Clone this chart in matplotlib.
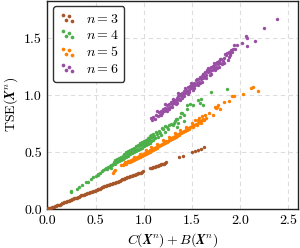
import numpy as np
import matplotlib
matplotlib.use('Agg')
import matplotlib.pyplot as plt

# datos (n = 3, 4, 5, 6)
x3 = [0.00, 0.02, 0.04, 0.05, 0.07, 0.09, 0.11, 0.13, 0.15, 0.17, 0.19, 0.21, 0.23, 0.25, 0.27,
      0.29, 0.31, 0.33, 0.35, 0.37, 0.39, 0.41, 0.43, 0.45, 0.47, 0.49, 0.51, 0.53, 0.55, 0.57,
      0.59, 0.61, 0.63, 0.65, 0.67, 0.69, 0.71, 0.73, 0.75, 0.77, 0.79, 0.81, 0.83, 0.85, 0.87,
      0.89, 0.91, 0.93, 0.95, 0.97, 0.99, 1.07, 1.09, 1.11, 1.13, 1.15, 1.17, 1.19, 1.21, 1.23,
      1.37, 1.41, 1.50, 1.53, 1.56, 1.59, 1.63,
      0.01, 0.03, 0.06, 0.08, 0.10, 0.12, 0.14, 0.16, 0.18, 0.20, 0.22, 0.24, 0.26, 0.28, 0.30,
      0.32, 0.34, 0.36, 0.38, 0.40, 0.42, 0.44, 0.46, 0.48, 0.50, 0.52, 0.54, 0.56, 0.58, 0.60,
      0.62, 0.64, 0.66, 0.68, 0.70, 0.72, 0.74, 0.76, 0.78, 0.80, 0.82, 0.84, 0.86, 0.88, 0.90,
      0.92, 0.94, 0.96, 0.98, 1.08, 1.10, 1.12, 1.14, 1.16, 1.18, 1.20, 1.22]
y3 = [0.00, 0.01, 0.01, 0.02, 0.02, 0.03, 0.04, 0.04, 0.05, 0.06, 0.06, 0.07, 0.08, 0.08, 0.09,
      0.10, 0.10, 0.11, 0.12, 0.12, 0.13, 0.14, 0.14, 0.15, 0.16, 0.16, 0.17, 0.18, 0.18, 0.19,
      0.20, 0.20, 0.21, 0.22, 0.22, 0.23, 0.24, 0.24, 0.25, 0.26, 0.26, 0.27, 0.28, 0.28, 0.29,
      0.30, 0.30, 0.31, 0.32, 0.32, 0.33, 0.36, 0.36, 0.37, 0.38, 0.38, 0.39, 0.40, 0.40, 0.41,
      0.455, 0.47, 0.50, 0.51, 0.52, 0.53, 0.545,
      0.005, 0.01, 0.02, 0.027, 0.033, 0.04, 0.047, 0.053, 0.06, 0.067, 0.073, 0.08, 0.087, 0.093, 0.10,
      0.107, 0.113, 0.12, 0.127, 0.133, 0.14, 0.147, 0.153, 0.16, 0.167, 0.173, 0.18, 0.187, 0.193, 0.20,
      0.207, 0.213, 0.22, 0.227, 0.233, 0.24, 0.247, 0.253, 0.26, 0.267, 0.273, 0.28, 0.287, 0.293, 0.30,
      0.307, 0.313, 0.32, 0.327, 0.36, 0.367, 0.373, 0.38, 0.387, 0.393, 0.40, 0.407]

x4 = [0.24, 0.25, 0.31, 0.33, 0.36, 0.40, 0.42, 0.45, 0.47, 0.50, 0.52, 0.53, 0.55, 0.57, 0.58,
      0.60, 0.61, 0.62, 0.63, 0.64, 0.65, 0.66, 0.67, 0.68, 0.69, 0.70, 0.71, 0.72, 0.73, 0.74,
      0.75, 0.76, 0.77, 0.78, 0.79, 0.80, 0.81, 0.82, 0.83, 0.84, 0.85, 0.86, 0.87, 0.88, 0.89,
      0.90, 0.91, 0.92, 0.93, 0.94, 0.95, 0.96, 0.97, 0.98, 0.99, 1.00, 1.01, 1.02, 1.03, 1.04,
      1.05, 1.06, 1.07, 1.08, 1.09, 1.10, 1.11, 1.12, 1.14, 1.15, 1.17, 1.18, 1.20, 1.22, 1.24,
      1.25, 1.28, 1.30, 1.31, 1.32, 1.34, 1.35, 1.36, 1.38, 1.39, 1.40, 1.42, 1.42, 1.45, 1.45,
      1.48, 1.51, 1.56, 1.58, 1.59, 1.62, 1.70, 1.86,
      0.66, 0.70, 0.74, 0.78, 0.82, 0.86, 0.90, 0.94, 0.98, 1.02, 1.06, 1.10, 1.16, 1.22,
      0.72, 0.76, 0.80, 0.84, 0.88, 0.92, 0.96, 1.00, 1.04, 1.08, 1.13, 1.19, 1.26, 1.33]
y4 = [0.15, 0.155, 0.18, 0.19, 0.21, 0.235, 0.24, 0.26, 0.28, 0.29, 0.30, 0.31, 0.32, 0.33, 0.34,
      0.35, 0.36, 0.355, 0.37, 0.37, 0.38, 0.39, 0.385, 0.40, 0.41, 0.40, 0.42, 0.41, 0.43, 0.42,
      0.44, 0.43, 0.45, 0.44, 0.46, 0.45, 0.47, 0.46, 0.48, 0.47, 0.49, 0.48, 0.50, 0.49, 0.51,
      0.50, 0.52, 0.51, 0.53, 0.52, 0.55, 0.53, 0.56, 0.54, 0.57, 0.55, 0.58, 0.56, 0.59, 0.57,
      0.61, 0.58, 0.62, 0.60, 0.63, 0.61, 0.64, 0.62, 0.66, 0.63, 0.67, 0.65, 0.70, 0.68, 0.72,
      0.70, 0.75, 0.74, 0.755, 0.77, 0.725, 0.79, 0.76, 0.81, 0.84, 0.84, 0.83, 0.77, 0.88, 0.91,
      0.925, 0.91, 0.955, 0.93, 0.965, 0.91, 1.03, 1.055,
      0.36, 0.43, 0.45, 0.47, 0.50, 0.52, 0.54, 0.56, 0.59, 0.61, 0.64, 0.66, 0.69, 0.73,
      0.44, 0.46, 0.48, 0.51, 0.53, 0.55, 0.58, 0.60, 0.62, 0.65, 0.68, 0.71, 0.74, 0.79]

x5 = [0.68, 0.69, 0.70, 0.76, 0.78, 0.79, 0.80, 0.81, 0.82, 0.83, 0.84, 0.85, 0.86, 0.87, 0.88,
      0.89, 0.90, 0.91, 0.92, 0.93, 0.94, 0.95, 0.96, 0.97, 0.98, 0.99, 1.00, 1.01, 1.02, 1.03,
      1.04, 1.05, 1.06, 1.07, 1.08, 1.09, 1.10, 1.11, 1.12, 1.13, 1.14, 1.15, 1.16, 1.17, 1.18,
      1.19, 1.20, 1.21, 1.22, 1.23, 1.24, 1.25, 1.26, 1.27, 1.28, 1.29, 1.30, 1.31, 1.32, 1.33,
      1.34, 1.35, 1.36, 1.37, 1.38, 1.39, 1.40, 1.41, 1.42, 1.43, 1.44, 1.45, 1.46, 1.47, 1.48,
      1.50, 1.51, 1.52, 1.54, 1.55, 1.56, 1.58, 1.59, 1.60, 1.62, 1.63, 1.65, 1.53, 1.57, 1.60,
      1.64, 1.68, 1.72, 1.76, 1.79, 1.74, 1.75, 1.77, 1.83, 1.88, 1.92, 1.94, 2.03, 2.11, 2.13,
      2.19,
      0.84, 0.90, 0.96, 1.02, 1.08, 1.14, 1.20, 1.26, 1.32, 1.38, 1.44, 1.50, 1.56]
y5 = [0.32, 0.335, 0.34, 0.39, 0.385, 0.40, 0.395, 0.41, 0.40, 0.415, 0.41, 0.42, 0.415, 0.43, 0.425,
      0.44, 0.43, 0.445, 0.44, 0.455, 0.45, 0.465, 0.46, 0.47, 0.465, 0.48, 0.475, 0.49, 0.485, 0.50,
      0.49, 0.51, 0.505, 0.52, 0.51, 0.53, 0.52, 0.535, 0.53, 0.545, 0.54, 0.555, 0.55, 0.565, 0.56,
      0.575, 0.57, 0.585, 0.58, 0.595, 0.59, 0.60, 0.61, 0.605, 0.62, 0.615, 0.63, 0.625, 0.64, 0.635,
      0.65, 0.645, 0.66, 0.655, 0.67, 0.665, 0.68, 0.675, 0.69, 0.685, 0.70, 0.695, 0.71, 0.70, 0.72,
      0.73, 0.72, 0.74, 0.75, 0.74, 0.76, 0.77, 0.76, 0.78, 0.79, 0.78, 0.80, 0.78, 0.80, 0.82,
      0.83, 0.84, 0.83, 0.90, 0.875, 0.90, 0.887, 0.916, 0.937, 0.945, 0.99, 0.995, 1.013, 1.063, 1.072,
      1.04,
      0.425, 0.455, 0.485, 0.515, 0.545, 0.575, 0.605, 0.635, 0.665, 0.695, 0.725, 0.755, 0.785]

x6 = [1.08, 1.09, 1.10, 1.12, 1.13, 1.15, 1.16, 1.17, 1.18, 1.19, 1.20, 1.21, 1.22, 1.23, 1.24,
      1.25, 1.26, 1.27, 1.28, 1.29, 1.30, 1.31, 1.32, 1.33, 1.34, 1.35, 1.36, 1.37, 1.38, 1.39,
      1.40, 1.41, 1.42, 1.43, 1.44, 1.45, 1.46, 1.47, 1.48, 1.49, 1.50, 1.51, 1.52, 1.53, 1.54,
      1.55, 1.56, 1.57, 1.58, 1.59, 1.60, 1.61, 1.62, 1.63, 1.64, 1.65, 1.66, 1.67, 1.68, 1.69,
      1.70, 1.71, 1.72, 1.73, 1.74, 1.75, 1.76, 1.77, 1.78, 1.79, 1.80, 1.82, 1.83, 1.85, 1.86,
      1.88, 1.89, 1.91, 1.93, 1.95, 1.965, 2.02, 2.06, 2.07, 2.07, 2.15, 2.25, 2.38,
      1.14, 1.18, 1.22, 1.26, 1.30, 1.33, 1.36, 1.40, 1.43, 1.46, 1.49, 1.52, 1.55, 1.58, 1.61,
      1.64, 1.67, 1.70, 1.73, 1.76, 1.79, 1.81, 1.84, 1.87, 1.90, 1.92, 1.94, 1.895,
      1.24, 1.29, 1.34, 1.38, 1.42, 1.47, 1.51, 1.56, 1.60, 1.65, 1.69, 1.74, 1.78, 1.83]
y6 = [0.80, 0.78, 0.81, 0.79, 0.83, 0.82, 0.85, 0.83, 0.86, 0.84, 0.88, 0.86, 0.89, 0.87, 0.91,
      0.89, 0.92, 0.90, 0.94, 0.92, 0.95, 0.93, 0.96, 0.94, 0.98, 0.96, 0.99, 0.97, 1.01, 0.99,
      1.02, 1.00, 1.04, 1.02, 1.05, 1.03, 1.07, 1.05, 1.08, 1.06, 1.10, 1.08, 1.11, 1.09, 1.13,
      1.11, 1.14, 1.12, 1.16, 1.14, 1.17, 1.15, 1.19, 1.17, 1.20, 1.18, 1.22, 1.20, 1.23, 1.21,
      1.25, 1.22, 1.26, 1.24, 1.27, 1.25, 1.29, 1.27, 1.30, 1.28, 1.32, 1.30, 1.33, 1.35, 1.37,
      1.34, 1.38, 1.40, 1.41, 1.41, 1.44, 1.46, 1.52, 1.50, 1.43, 1.48, 1.59, 1.67,
      0.86, 0.83, 0.92, 0.88, 0.97, 0.92, 1.02, 0.98, 1.06, 1.01, 1.11, 1.06, 1.14, 1.11, 1.19,
      1.16, 1.24, 1.19, 1.28, 1.24, 1.32, 1.27, 1.36, 1.31, 1.35, 1.38, 1.44, 1.37,
      0.86, 0.90, 0.93, 0.96, 0.99, 1.03, 1.05, 1.09, 1.12, 1.15, 1.18, 1.22, 1.25, 1.28]

series = [(x3, y3, '#a65628', r'$n = 3$'),
          (x4, y4, '#4daf4a', r'$n = 4$'),
          (x5, y5, '#ff7f00', r'$n = 5$'),
          (x6, y6, '#984ea3', r'$n = 6$')]

plt.rcParams['font.family'] = 'serif'
plt.rcParams['font.serif'] = ['cmr10', 'DejaVu Serif']
plt.rcParams['mathtext.fontset'] = 'cm'
plt.rcParams['axes.formatter.use_mathtext'] = True
plt.rcParams['font.size'] = 10

fig = plt.figure(figsize=(3.0, 2.48), dpi=100)
ax = fig.add_axes([0.158, 0.157, 0.835, 0.84])

for xs, ys, c, lab in series:
    ax.scatter(xs, ys, s=6, color=c, linewidths=0, label=lab, zorder=3)

ax.set_xlim(0, 2.6)
ax.set_ylim(0, 1.83)
ax.set_xticks([0.0, 0.5, 1.0, 1.5, 2.0, 2.5])
ax.set_yticks([0.0, 0.5, 1.0, 1.5])
ax.set_xticklabels(['0.0', '0.5', '1.0', '1.5', '2.0', '2.5'])
ax.set_yticklabels(['0.0', '0.5', '1.0', '1.5'])
ax.tick_params(length=0, pad=4, labelsize=10)
ax.grid(True, color='#dddddd', linestyle=(0, (4, 3)), linewidth=0.8, zorder=0)
for s in ax.spines.values():
    s.set_color('#222222')
    s.set_linewidth(1.0)

ax.set_xlabel(r'$C(\boldsymbol{X}^n) + B(\boldsymbol{X}^n)$', fontsize=10, labelpad=3)
ax.set_ylabel(r'$\mathrm{TSE}(\boldsymbol{X}^n)$', fontsize=10, labelpad=3)

leg = ax.legend(loc='upper left', scatterpoints=4, scatteryoffsets=[0.8, 0.3, 0.65, 0.2],
                fontsize=10, frameon=True, fancybox=True, framealpha=1,
                edgecolor='#333333', borderaxespad=0.4, handlelength=1.2,
                handletextpad=0.7, labelspacing=0.25, borderpad=0.45)
leg.get_frame().set_linewidth(1.0)
for h in leg.legend_handles:
    h.set_sizes([7])

fig.savefig('out.png', dpi=100)
